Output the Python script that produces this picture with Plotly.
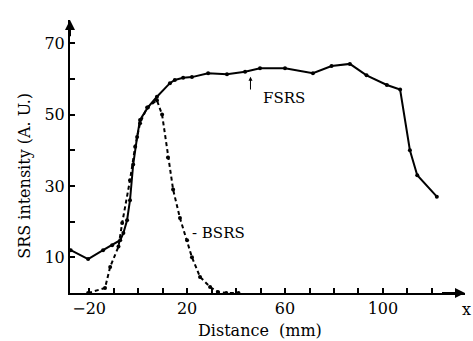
import plotly.graph_objects as go

# FSRS (solid)
fsrs_x = [-27.5, -20.4, -14.3, -10.6, -7.3, -6, -4.5, -3.3, -2, -0.4, 0.8, 4, 7.7, 13, 15, 18.4, 22, 28.6, 36.3, 43.7, 49.8, 60, 71.4, 79, 86.5, 93.3, 101.6, 107, 111, 114, 122]
fsrs_y = [12, 9.5, 12, 13.4, 14.8, 16.8, 20.4, 26, 36, 43.7, 48.5, 52, 55, 58.8, 59.7, 60.3, 60.5, 61.6, 61.3, 62, 63, 63, 61.6, 63.6, 64.2, 61, 58.3, 57, 40, 33, 27]

# BSRS (dashed)
bsrs_x = [-20.4, -13.5, -11.4, -8, -6.5, -3.3, -1.2, 0.8, 3.7, 7.7, 9.8, 12.2, 14.3, 17.1, 20, 22, 25.3, 29.4, 32.6, 36, 41]
bsrs_y = [0, 1.4, 7.3, 13, 19.6, 31.6, 41, 47.6, 52, 54, 50, 38, 29, 21, 14.8, 10, 4.5, 1.7, 0.3, 0, 0]

x_ticks = list(range(-20, 130, 10))
x_labels = {-20: "\u221220", 20: "20", 60: "60", 100: "100"}
y_ticks = list(range(10, 80, 10))
y_labels = {10: "10", 30: "30", 50: "50", 70: "70"}

FONT = "DejaVu Serif"

fig = go.Figure()
fig.add_trace(go.Scatter(x=fsrs_x, y=fsrs_y, mode="lines+markers",
                         line=dict(color="black", width=2),
                         marker=dict(size=4, color="black"), showlegend=False))
fig.add_trace(go.Scatter(x=bsrs_x, y=bsrs_y, mode="lines+markers",
                         line=dict(color="black", width=2, dash="4px,3px"),
                         marker=dict(size=4, color="black"), showlegend=False))

X0, X1 = -27.8, 133.5
Y0, Y1 = 0, 76.5

fig.update_layout(
    width=473, height=341,
    margin=dict(l=70, r=8, t=20, b=48),
    paper_bgcolor="white", plot_bgcolor="white",
    font=dict(family=FONT, size=16, color="black"),
    xaxis=dict(range=[X0, X1], showgrid=False, zeroline=False,
               showline=True, linecolor="black", linewidth=2,
               ticks="inside", ticklen=5, tickwidth=1.5, tickcolor="black",
               tickvals=x_ticks, ticktext=[x_labels.get(v, "") for v in x_ticks],
               tickfont=dict(family=FONT, size=16)),
    yaxis=dict(range=[Y0, Y1], showgrid=False, zeroline=False,
               showline=True, linecolor="black", linewidth=2,
               ticks="inside", ticklen=5, tickwidth=1.5, tickcolor="black",
               tickvals=y_ticks, ticktext=[y_labels.get(v, "") for v in y_ticks],
               tickfont=dict(family=FONT, size=16)),
)

# axis arrowheads
fig.add_annotation(x=X1, y=0, ax=X1 - 10, ay=0, xref="x", yref="y", axref="x", ayref="y",
                   showarrow=True, arrowhead=2, arrowsize=1, arrowwidth=2, arrowcolor="black", text="")
fig.add_annotation(x=X0, y=Y1, ax=X0, ay=Y1 - 5, xref="x", yref="y", axref="x", ayref="y",
                   showarrow=True, arrowhead=2, arrowsize=1, arrowwidth=2, arrowcolor="black", text="")

fig.add_annotation(x=1.02, y=-0.062, xref="paper", yref="paper", text="x", showarrow=False,
                   xanchor="right", yanchor="middle", font=dict(family=FONT, size=16))

fig.add_annotation(x=0.481, y=-0.136, xref="paper", yref="paper", text="Distance  (mm)",
                   showarrow=False, yanchor="middle", font=dict(family=FONT, size=16))
fig.add_annotation(x=-0.116, y=0.43, xref="paper", yref="paper", text="SRS intensity (A. U.)",
                   textangle=-90, showarrow=False, xanchor="center", yanchor="middle",
                   font=dict(family=FONT, size=16))

# labels
fig.add_annotation(x=59.6, y=54.6, xref="x", yref="y", text="FSRS", showarrow=False,
                   font=dict(family=FONT, size=15))
fig.add_annotation(x=45.9, y=60.6, ax=45.9, ay=56.6, xref="x", yref="y", axref="x", ayref="y",
                   text="", showarrow=True, arrowhead=2, arrowsize=0.8, arrowwidth=1, arrowcolor="black")
fig.add_annotation(x=21.2, y=16.8, xref="x", yref="y", text="- BSRS", showarrow=False,
                   xanchor="left", font=dict(family=FONT, size=15))

fig.write_html("out.html", config={"displayModeBar": False},
               post_script="document.body.style.margin='0';document.body.style.padding='0';")
